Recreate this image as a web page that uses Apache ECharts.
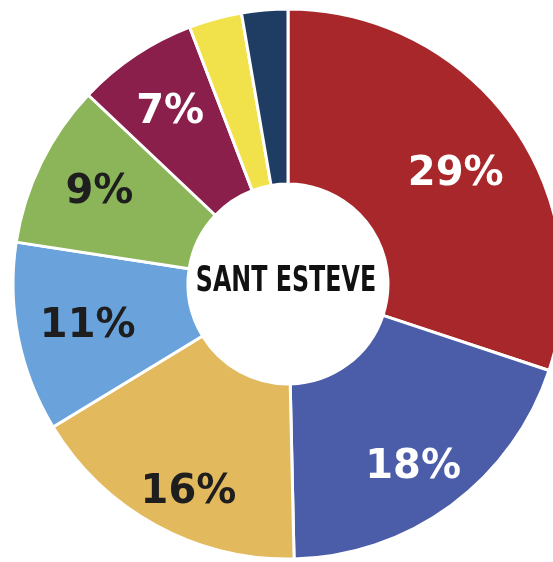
<!DOCTYPE html>
<html>
<head>
<meta charset="utf-8">
<script src="https://cdn.jsdelivr.net/npm/echarts@6/dist/echarts.min.js"></script>
<style>
  html, body { margin: 0; padding: 0; background: #fff; }
  #chart { width: 553px; height: 562px; }
</style>
</head>
<body>
<div id="chart"></div>
<script>
// shares, clockwise from 12 o'clock
const categories = ['a', 'b', 'c', 'd', 'e', 'f', 'g', 'h']
const values = [30, 19.5, 16.6, 11.1, 9.6, 7.1, 3.1, 2.7]
const labels = ['29%', '18%', '16%', '11%', '9%', '7%', '', '']
const colors = ['#a8272a', '#4b5ca8', '#e3b95e', '#6aa3dc', '#8cb55a', '#8a1f4b', '#f1e24b', '#1f3d63']
const labelColors = ['#fff', '#fff', '#1e1e1e', '#1e1e1e', '#1e1e1e', '#fff', '#fff', '#fff']
// small nudges so the labels sit where the original has them
const labelNudge = [[-7, 17], [-3, 10], [4, 20], [11, 0], [5, 3], [2, 8], [0, 0], [0, 0]]
const title = 'SANT ESTEVE'

const center = [288, 284]

const chart = echarts.init(document.getElementById('chart'))

const pieData = categories.map((c, i) => ({
  name: c,
  value: values[i],
  itemStyle: { color: colors[i] }
}))

const labelData = categories.map((c, i) => ({
  name: c,
  value: values[i],
  label: { color: labelColors[i], offset: labelNudge[i] }
}))

chart.setOption({
  animation: false,
  series: [{
    // coloured ring
    type: 'pie',
    center: center,
    radius: [100, 275],
    startAngle: 90,
    silent: true,
    itemStyle: { borderColor: '#fff', borderWidth: 3 },
    label: { show: false },
    labelLine: { show: false },
    data: pieData
  }, {
    // wider transparent ring only to push the labels outward
    type: 'pie',
    center: center,
    radius: [140, 285],
    startAngle: 90,
    silent: true,
    itemStyle: { color: 'transparent' },
    label: {
      show: true,
      position: 'inside',
      formatter: p => labels[p.dataIndex],
      fontFamily: 'DejaVu Sans',
      fontWeight: 'bold',
      fontSize: 40
    },
    labelLine: { show: false },
    data: labelData
  }],
  graphic: [{
    type: 'text',
    x: 286,
    y: 282,
    scaleX: 0.66,
    style: {
      text: title,
      fontFamily: 'DejaVu Sans',
      fontWeight: 'bold',
      fontSize: 36,
      fill: '#111',
      align: 'center',
      verticalAlign: 'middle'
    }
  }]
})
</script>
</body>
</html>
